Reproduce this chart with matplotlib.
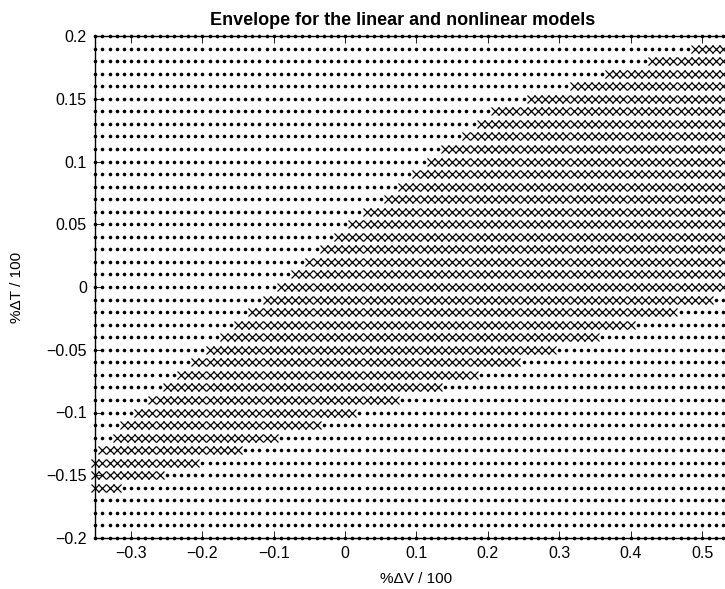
import numpy as np
import matplotlib
matplotlib.use("Agg")
import matplotlib.pyplot as plt

plt.rcParams['font.family'] = ['Liberation Sans', 'DejaVu Sans']

# sampling grid of the envelope test (%dV / 100 across, %dT / 100 down)
dv_grid = np.round(np.linspace(-0.35, 0.55, 91), 2)
dt_grid = np.round(np.linspace(0.2, -0.2, 41), 2)

# rows that contain crosses, and where the crosses start / stop in each row
env_t = [0.20, 0.19, 0.18, 0.17, 0.16, 0.15, 0.14, 0.13, 0.12, 0.11,
         0.10, 0.09, 0.08, 0.07, 0.06, 0.05, 0.04, 0.03, 0.02, 0.01,
         0.00, -0.01, -0.02, -0.03, -0.04, -0.05, -0.06, -0.07, -0.08, -0.09,
         -0.10, -0.11, -0.12, -0.13, -0.14, -0.15, -0.16]
env_start = [0.55, 0.49, 0.43, 0.37, 0.32, 0.26, 0.21, 0.19, 0.17, 0.14,
             0.12, 0.10, 0.08, 0.06, 0.03, 0.01, -0.01, -0.03, -0.05, -0.07,
             -0.09, -0.11, -0.13, -0.15, -0.17, -0.19, -0.21, -0.23, -0.25, -0.27,
             -0.29, -0.31, -0.32, -0.34, -0.35, -0.35, -0.35]
env_end = [0.55, 0.55, 0.55, 0.55, 0.55, 0.55, 0.55, 0.55, 0.55, 0.55,
           0.55, 0.55, 0.55, 0.55, 0.55, 0.55, 0.55, 0.55, 0.55, 0.55,
           0.55, 0.51, 0.46, 0.40, 0.35, 0.29, 0.24, 0.18, 0.13, 0.07,
           0.01, -0.04, -0.10, -0.15, -0.21, -0.26, -0.32]

xticks = [-0.3, -0.2, -0.1, 0, 0.1, 0.2, 0.3, 0.4, 0.5]
xticklabels = ['\u22120.3', '\u22120.2', '\u22120.1', '0', '0.1', '0.2', '0.3', '0.4', '0.5']
yticks = [-0.2, -0.15, -0.1, -0.05, 0, 0.05, 0.1, 0.15, 0.2]
yticklabels = ['\u22120.2', '\u22120.15', '\u22120.1', '\u22120.05', '0', '0.05', '0.1', '0.15', '0.2']

V, T = np.meshgrid(dv_grid, dt_grid)
inside = np.zeros(V.shape, dtype=bool)
for t, a, b in zip(env_t, env_start, env_end):
    row = np.isclose(dt_grid, t)
    inside[row, :] = (dv_grid >= a - 1e-9) & (dv_grid <= b + 1e-9)

fig = plt.figure(figsize=(7.25, 5.89), dpi=100)
# the axes run past the right edge of the figure, as in the original
ax = fig.add_axes([95.3 / 725, 51 / 589, 642.4 / 725, 502 / 589])

ax.plot(V[~inside], T[~inside], 'o', color='black', ms=2.6, mew=0, clip_on=False, zorder=3)
ax.plot(V[inside], T[inside], 'x', color='black', ms=5.6, mew=0.9, clip_on=False, zorder=3)

ax.set_xlim(-0.35, 0.55)
ax.set_ylim(-0.2, 0.2)
ax.set_xticks(xticks)
ax.set_xticklabels(xticklabels)
ax.set_yticks(yticks)
ax.set_yticklabels(yticklabels)
ax.tick_params(direction='in', length=5, width=0.6, top=True, right=True, labelsize=11.5, pad=6)
for s in ax.spines.values():
    s.set_linewidth(1.0)

ax.set_title('Envelope for the linear and nonlinear models', fontsize=13, fontweight='bold', pad=8)
ax.title.set_x((403 - 95.3) / 642.4)
ax.set_xlabel('%\u0394V / 100', fontsize=11, labelpad=8)
ax.set_ylabel('%\u0394T / 100', fontsize=11, labelpad=16)

fig.savefig('out.png', dpi=100)
